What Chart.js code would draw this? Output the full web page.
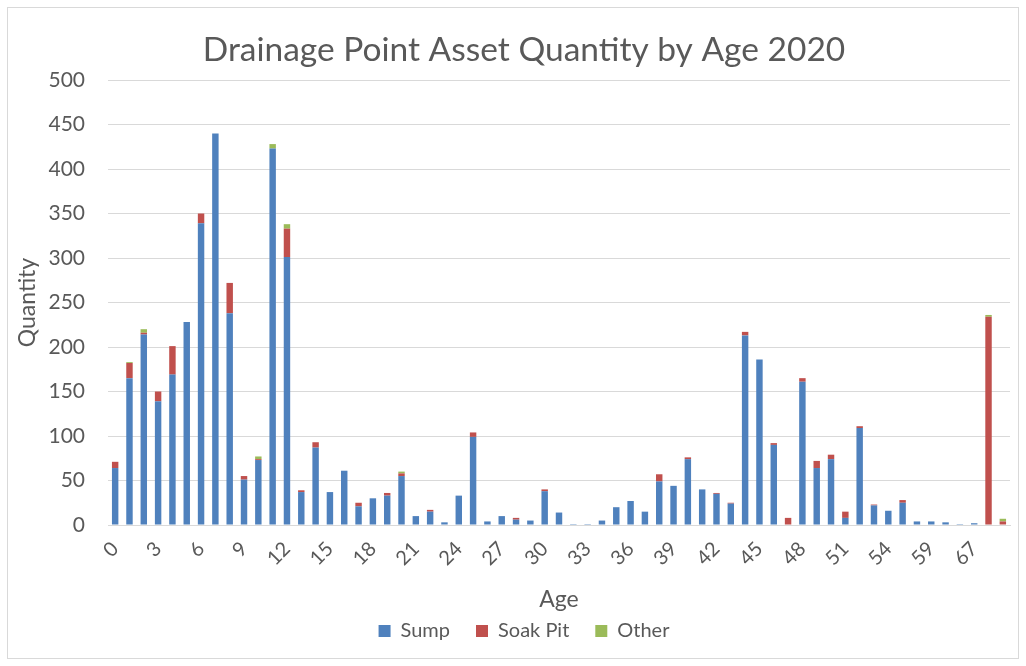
<!DOCTYPE html>
<html>
<head>
<meta charset="utf-8">
<title>Drainage Point Asset Quantity by Age 2020</title>
<script src="https://cdn.jsdelivr.net/npm/chart.js@4/dist/chart.umd.min.js"></script>
<style>
  html, body { margin: 0; padding: 0; background: #ffffff; }
  #wrap { width: 1026px; height: 666px; position: relative; }
</style>
</head>
<body>
<div id="wrap"><canvas id="chart"></canvas></div>
<script>
// Asset age in years (one bar per age present in the register)
const ages = [
  0, 1, 2, 3, 4, 5, 6, 7, 8, 9, 10, 11, 12, 13, 14, 15, 16, 17, 18, 19,
  20, 21, 22, 23, 24, 25, 26, 27, 28, 29, 30, 31, 32, 33, 34, 35, 36, 37, 38, 39,
  40, 41, 42, 43, 44, 45, 46, 47, 48, 49, 50, 51, 52, 53, 54, 55, 57, 59, 61, 64,
  67, 70, 75
];

// Drainage point counts per age, by asset type
const sump = [
  64, 165, 214, 139, 169, 228, 339, 440, 238, 51, 73, 423, 301, 37, 87, 37, 61, 21, 30, 33,
  55, 10, 15, 3, 33, 99, 4, 10, 6, 5, 38, 14, 1, 1, 5, 20, 27, 15, 49, 44,
  74, 40, 35, 24, 213, 186, 90, 0, 161, 64, 74, 8, 109, 22, 16, 25, 4, 4, 3, 1,
  2, 0, 0
];
const soakPit = [
  7, 17, 2, 11, 32, 0, 11, 0, 34, 4, 1, 0, 32, 2, 6, 0, 0, 4, 0, 3,
  3, 0, 2, 0, 0, 5, 0, 0, 2, 0, 2, 0, 0, 0, 0, 0, 0, 0, 8, 0,
  2, 0, 1, 1, 4, 0, 2, 8, 4, 8, 5, 7, 2, 1, 0, 3, 0, 0, 0, 0,
  0, 234, 4
];
const other = [
  0, 1, 4, 0, 0, 0, 0, 0, 0, 0, 3, 5, 5, 0, 0, 0, 0, 0, 0, 0,
  2, 0, 0, 0, 0, 0, 0, 0, 0, 0, 0, 0, 0, 0, 0, 0, 0, 0, 0, 0,
  0, 0, 0, 0, 0, 0, 0, 0, 0, 0, 0, 0, 0, 0, 0, 0, 0, 0, 0, 0,
  0, 2, 3
];

// Value axis ticks
const yTicks = [0, 50, 100, 150, 200, 250, 300, 350, 400, 450, 500];

const FONT = 'Lato, "Open Sans", "Liberation Sans", sans-serif';
const TEXT = '#595959';
const GRID = '#d9d9d9';
const PAD_LEFT = 38;
const PLOT_LEFT = 108;
const PLOT_BOTTOM = 525;
const PAD_BOTTOM = 15;

// Thin frame round the whole chart area
const frame = {
  id: 'frame',
  beforeDraw(chart) {
    const ctx = chart.ctx;
    ctx.save();
    ctx.fillStyle = '#ffffff';
    ctx.fillRect(0, 0, chart.width, chart.height);
    ctx.strokeStyle = GRID;
    ctx.lineWidth = 1;
    ctx.strokeRect(7.5, 7.5, chart.width - 15, chart.height - 15);
    ctx.restore();
  }
};

new Chart(document.getElementById('chart'), {
  type: 'bar',
  data: {
    labels: ages.map(String),
    datasets: [
      { label: 'Sump', data: sump, backgroundColor: '#4f81bd' },
      { label: 'Soak Pit', data: soakPit, backgroundColor: '#c0504d' },
      { label: 'Other', data: other, backgroundColor: '#9bbb59' }
    ]
  },
  options: {
    responsive: true,
    maintainAspectRatio: false,
    animation: false,
    layout: { padding: { left: PAD_LEFT, right: 16, top: 0, bottom: PAD_BOTTOM } },
    datasets: { bar: { categoryPercentage: 1, barPercentage: 0.45 } },
    plugins: {
      title: {
        display: true,
        text: 'Drainage Point Asset Quantity by Age 2020',
        color: TEXT,
        font: { family: FONT, size: 33.5, weight: 'normal', lineHeight: 1.2 },
        padding: { top: 30, bottom: 9.8 }
      },
      legend: {
        display: true,
        position: 'bottom',
        labels: {
          color: TEXT,
          font: { family: FONT, size: 20 },
          boxWidth: 12,
          boxHeight: 12,
          padding: 26
        }
      },
      tooltip: { enabled: false }
    },
    scales: {
      x: {
        stacked: true,
        grid: { display: false },
        border: { display: true, color: GRID, width: 1 },
        ticks: {
          color: TEXT,
          font: { family: FONT, size: 20 },
          autoSkip: false,
          maxRotation: 45,
          minRotation: 45,
          padding: 4,
          callback(value, index) {
            return index % 3 === 0 ? this.getLabelForValue(value) : '';
          }
        },
        title: {
          display: true,
          text: 'Age',
          color: TEXT,
          font: { family: FONT, size: 23 },
          padding: { top: 0, bottom: -18.8 }
        },
        afterFit(scale) {
          const legendH = scale.chart.legend ? scale.chart.legend.height : 0;
          scale.height = scale.chart.height - PLOT_BOTTOM - legendH - PAD_BOTTOM;
        }
      },
      y: {
        stacked: true,
        min: 0,
        max: 500,
        afterBuildTicks(scale) {
          scale.ticks = yTicks.map(v => ({ value: v }));
        },
        grid: { color: GRID, lineWidth: 1, drawTicks: false },
        border: { display: false },
        ticks: {
          color: TEXT,
          font: { family: FONT, size: 21 },
          padding: 23
        },
        title: {
          display: true,
          text: 'Quantity',
          color: TEXT,
          font: { family: FONT, size: 23 },
          padding: { top: 14 - PAD_LEFT, bottom: 0 }
        },
        afterFit(scale) {
          scale.width = PLOT_LEFT - PAD_LEFT;
        }
      }
    }
  },
  plugins: [frame]
});
</script>
</body>
</html>
